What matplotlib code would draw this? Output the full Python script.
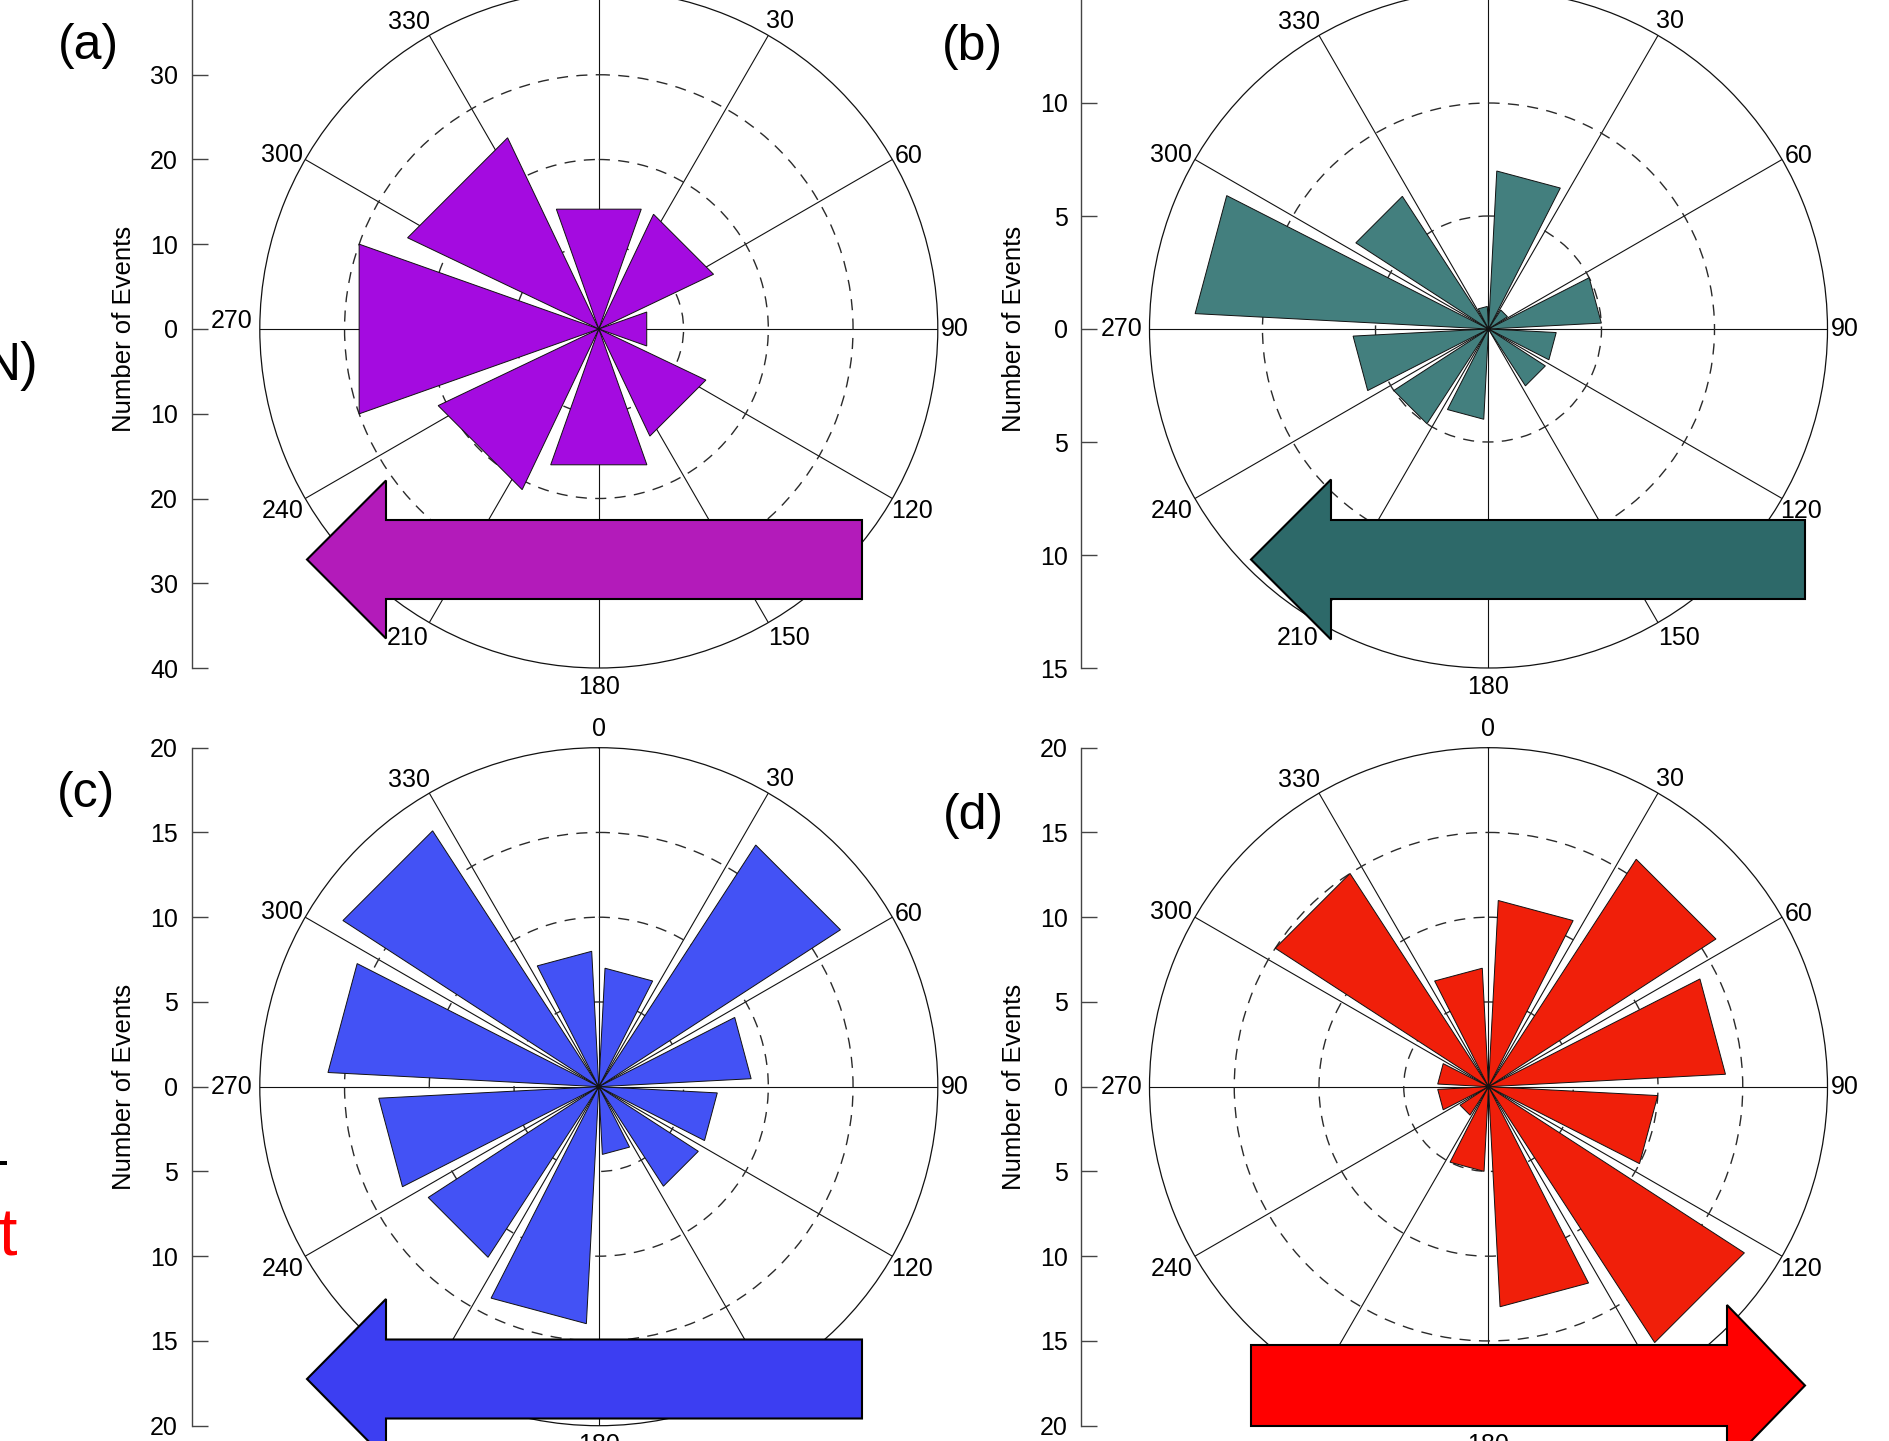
import numpy as np
import matplotlib
matplotlib.use("Agg")
import matplotlib.pyplot as plt
from matplotlib.patches import Polygon

plt.rcParams['font.family'] = ['Liberation Sans', 'DejaVu Sans']

# ---------------- data ----------------
dir_a = [0, 45, 90, 135, 180, 225, 270, 315]
cnt_a = [15, 15, 6, 14, 17, 21, 30, 25]
dir_30 = [15, 45, 75, 105, 135, 165, 195, 225, 255, 285, 315, 345]
cnt_b = [7, 1, 5, 3, 3, 0, 4, 5, 6, 13, 7, 1]
cnt_c = [7, 17, 9, 7, 7, 4, 14, 12, 13, 16, 18, 8]
cnt_d = [11, 16, 14, 10, 18, 13, 5, 2, 3, 3, 15, 7]
angle_ticks = list(range(0, 360, 30))
angle_labels = [str(a) for a in angle_ticks]
panel_labels = ['(a)', '(b)', '(c)', '(d)']
ylabel_text = 'Number of Events'

# label placement (radius in px, drawn angle) -- styling only
lab_r = {0: 358, 30: 357, 60: 355, 90: 356, 120: 362, 150: 363, 180: 358,
         210: 363, 240: 365, 270: 367, 300: 362, 330: 361}
lab_ang = {0: 0, 30: 30.5, 60: 60.8, 90: 90, 120: 120.2, 150: 148.4,
           180: 180, 210: 211.8, 240: 240.1, 270: 270, 300: 298.8, 330: 328.3}

# ---------------- layout (pixels) ----------------
W, H, DPI = 1890, 1441, 100
fig = plt.figure(figsize=(W / DPI, H / DPI), dpi=DPI)
fig.patch.set_facecolor('white')

R = 339.0
FS = 18


def fx(x):
    return x / W


def fy(y):
    return 1 - y / H


panels = [
    dict(cx=598.8, cy=329.0, dirs=dir_a, cnts=cnt_a, binw=45, rmax=40, step=10,
         bar='#A40BE0', arrow='#B31BBA', lab=(88, 46), a270=271.3,
         arr=dict(tail=862, base=386, tip=307, yc=559.5, bh=39.5, hh=79)),
    dict(cx=1488.5, cy=329.0, dirs=dir_30, cnts=cnt_b, binw=30, rmax=15, step=5,
         bar='#437F7E', arrow='#2D6969', lab=(972, 47), a270=270,
         arr=dict(tail=1805, base=1331, tip=1251, yc=559.5, bh=39.5, hh=80)),
    dict(cx=598.8, cy=1086.7, dirs=dir_30, cnts=cnt_c, binw=30, rmax=20, step=5,
         bar='#4352F5', arrow='#3C3EF2', lab=(86, 794), a270=270,
         arr=dict(tail=862, base=386, tip=307, yc=1379, bh=39.5, hh=80)),
    dict(cx=1488.5, cy=1086.7, dirs=dir_30, cnts=cnt_d, binw=30, rmax=20, step=5,
         bar='#F01F0A', arrow='#FF0000', lab=(973, 816), a270=270,
         arr=dict(tail=1251, base=1727, tip=1805, yc=1385.5, bh=40.5, hh=80.5)),
]

for i, p in enumerate(panels):
    cx, cy, rmax = p['cx'], p['cy'], p['rmax']
    ax = fig.add_axes([fx(cx - R), fy(cy + R), 2 * R / W, 2 * R / H],
                      projection='polar')
    ax.set_theta_zero_location('N')
    ax.set_theta_direction(-1)
    ax.set_ylim(0, rmax)
    ax.set_axisbelow(True)
    ax.set_thetagrids(angle_ticks, labels=[''] * len(angle_ticks))
    rg = list(range(p['step'], rmax, p['step']))
    ax.set_rgrids(rg, labels=[''] * len(rg))
    ax.xaxis.grid(True, color='#111111', lw=0.8, ls='-')
    ax.yaxis.grid(True, color='#2a2a2a', lw=1.0, ls=(0, (8, 6)))
    ax.tick_params(length=0)
    ax.spines['polar'].set_linewidth(0.9)
    ax.spines['polar'].set_color('#111111')

    # petals: straight-edged triangles
    hw = (p['binw'] - 6) / 2.0
    for d, n in zip(p['dirs'], p['cnts']):
        if n <= 0:
            continue
        th = np.deg2rad([d, d - hw, d + hw])
        ax.fill(th, [0, n, n], facecolor=p['bar'], edgecolor='#111111',
                lw=0.7, zorder=2)

    # angle labels
    for a, s in zip(angle_ticks, angle_labels):
        aa = p['a270'] if a == 270 else lab_ang[a]
        ax.text(np.deg2rad(aa), rmax * lab_r[a] / R, s, ha='center',
                va='center', fontsize=FS, clip_on=False, zorder=3)

    # left "Number of Events" axis
    xl = 191.7 if cx < 1000 else 191.7 + 889.7
    yax = fig.add_axes([fx(xl), fy(cy + R), 0.01, 2 * R / H])
    yax.set_ylim(-rmax, rmax)
    for s in ['right', 'top', 'bottom']:
        yax.spines[s].set_visible(False)
    yax.spines['left'].set_color('#444444')
    yax.spines['left'].set_linewidth(1.0)
    yax.patch.set_alpha(0)
    yax.set_xticks([])
    yt = list(range(-rmax, rmax + 1, p['step']))
    yax.set_yticks(yt)
    yax.set_yticklabels([str(abs(v)) for v in yt])
    yax.tick_params(axis='y', direction='in', length=11.5, width=1.0,
                    color='#444444', labelsize=FS, pad=9.9)
    fig.text(fx(xl - 67.7), fy(cy), ylabel_text, rotation=90, ha='center',
             va='center', fontsize=FS + 0.5)

    # panel label
    fig.text(fx(p['lab'][0]), fy(p['lab'][1]), panel_labels[i], ha='center',
             va='center', fontsize=36)

    # block arrow
    A = p['arr']
    yc, bh, hh = A['yc'], A['bh'], A['hh']
    pts = [(A['tail'], yc - bh), (A['base'], yc - bh), (A['base'], yc - hh),
           (A['tip'], yc), (A['base'], yc + hh), (A['base'], yc + bh),
           (A['tail'], yc + bh)]
    poly = Polygon([(fx(x), fy(y)) for x, y in pts], closed=True,
                   transform=fig.transFigure, facecolor=p['arrow'],
                   edgecolor='black', lw=1.5, zorder=10)
    fig.add_artist(poly)

# fragments of neighbouring text at the left edge
fig.text(fx(38), fy(366), 'N)', ha='right', va='center', fontsize=38)
fig.text(fx(9.5), fy(1178), '-', ha='right', va='baseline', fontsize=40)
fig.text(fx(18), fy(1256), 't', ha='right', va='baseline', fontsize=48,
         color='#FF0000')

fig.savefig('out.png', dpi=DPI, facecolor='white')
